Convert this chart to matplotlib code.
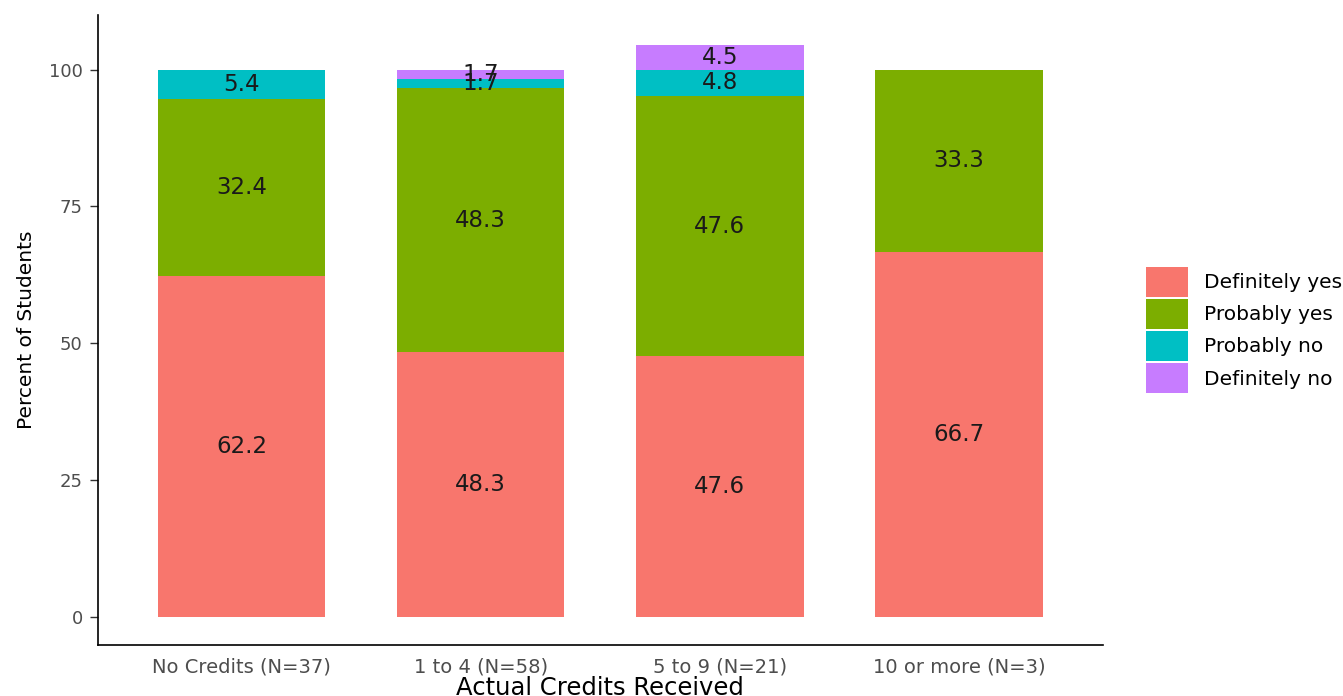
import numpy as np
import matplotlib.pyplot as plt

plt.rcParams['font.family'] = ['DejaVu Sans']

# data
categories = ['No Credits (N=37)', '1 to 4 (N=58)', '5 to 9 (N=21)', '10 or more (N=3)']
responses = ['Definitely yes', 'Probably yes', 'Probably no', 'Definitely no']
definitely_yes = [62.2, 48.3, 47.6, 66.7]
probably_yes = [32.4, 48.3, 47.6, 33.3]
probably_no = [5.4, 1.7, 4.8, 0.0]
definitely_no = [0.0, 1.7, 4.5, 0.0]
colors = ['#F8766D', '#7CAE00', '#00BFC4', '#C77CFF']

series = [definitely_yes, probably_yes, probably_no, definitely_no]

fig = plt.figure(figsize=(13.43, 6.96), dpi=100)
ax = fig.add_axes([0.073, 0.0733, 0.748, 0.905])

x = np.arange(len(categories))
bottom = np.zeros(len(categories))
for vals, col, lab in zip(series, colors, responses):
    vals = np.array(vals)
    ax.bar(x, vals, width=0.7, bottom=bottom, color=col, label=lab,
           edgecolor='none')
    # value labels in the middle of each segment (overlap at 1.7 as in source)
    for xi, b, v in zip(x, bottom, vals):
        if v > 0:
            ax.text(xi, b + v / 2, f'{v:.1f}', ha='center', va='center',
                    fontsize=16.5, color='#1a1a1a')
    bottom += vals

ax.set_xlim(-0.6, 3.6)
ax.set_ylim(-5.2, 110)
ax.set_yticks([0, 25, 50, 75, 100])
ax.set_xticks(x)
ax.set_xticklabels(categories)
ax.tick_params(axis='y', labelsize=13, labelcolor='#4D4D4D',
               color='#333333', length=6, width=1, pad=5)
ax.tick_params(axis='x', labelsize=14, labelcolor='#4D4D4D', length=0,
               pad=9)
for s in ['top', 'right']:
    ax.spines[s].set_visible(False)
for s in ['left', 'bottom']:
    ax.spines[s].set_linewidth(1.2)

ax.set_xlabel('Actual Credits Received', fontsize=17.5, labelpad=0)
ax.set_ylabel('Percent of Students', fontsize=14.5, labelpad=9)

ax.legend(loc='center left', bbox_to_anchor=(1.025, 0.5), frameon=False,
          fontsize=14.5, handlelength=2.1, handleheight=1.95,
          labelspacing=0.08, handletextpad=0.8)

fig.savefig('out.png', dpi=100)
